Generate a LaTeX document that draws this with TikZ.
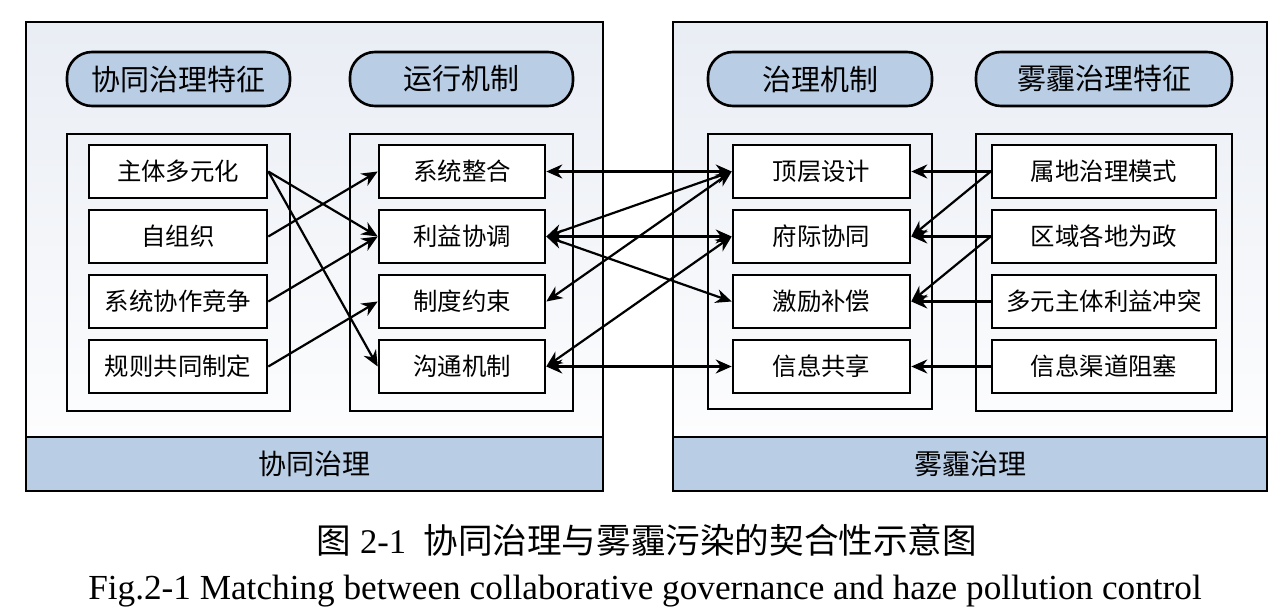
\documentclass[tikz,border=0pt]{standalone}
\usepackage{fontspec}
\setmainfont{Liberation Serif}
\newfontfamily\cjk{Noto Sans CJK SC}
\usetikzlibrary{arrows.meta, positioning}
\definecolor{bandblue}{RGB}{185,205,229}
\definecolor{paleblue}{RGB}{233,237,244}

\begin{document}
\begin{tikzpicture}[
    x=0.5pt, y=-0.5pt,
    node distance=4.7pt,
    panel/.style={draw, line width=1.3pt, top color=paleblue, bottom color=white},
    band/.style={draw, line width=1.3pt, fill=bandblue, minimum height=27pt, font=\cjk\fontsize{14}{16}\selectfont},
    pill/.style={draw, line width=1.3pt, fill=bandblue, rounded corners=12.5pt, minimum height=27pt, font=\cjk\fontsize{14.5}{16}\selectfont},
    frame/.style={draw, line width=1.3pt},
    item/.style={draw, line width=1.3pt, fill=white, minimum height=26.5pt, font=\cjk\fontsize{12.2}{14}\selectfont},
    arrow/.style={line width=1.1pt, -{Stealth[length=8pt,width=7pt]}},
    both/.style={line width=1.1pt, {Stealth[length=8pt,width=7pt]}-{Stealth[length=8pt,width=7pt]}}
]
\useasboundingbox (0,0) rectangle (1286,616);

% outer panels
\draw[panel] (26,22) rectangle (603,491);
\draw[panel] (673,22) rectangle (1267,491);
\node[band, minimum width=288.5pt] (lband) at (314.5,464) {协同治理};
\node[band, minimum width=297pt] (rband) at (970,464) {雾霾治理};

% headings
\node[pill, minimum width=111.5pt] (feaA) at (178.5,79) {协同治理特征};
\node[pill, minimum width=111.5pt] (mechA) at (461.5,79) {运行机制};
\node[pill, minimum width=112pt] (mechB) at (820,79) {治理机制};
\node[pill, minimum width=128pt] (feaB) at (1104,79) {雾霾治理特征};

% inner frames
\draw[frame] (67,134) rectangle (290,411);
\draw[frame] (350,134) rectangle (573,411);
\draw[frame] (708,134) rectangle (932,409);
\draw[frame] (976,134) rectangle (1232,411);

% column 1
\node[item, minimum width=89pt] (a1) at (178,171.5) {主体多元化};
\node[item, minimum width=89pt, below=of a1] (a2) {自组织};
\node[item, minimum width=89pt, below=of a2] (a3) {系统协作竞争};
\node[item, minimum width=89pt, below=of a3] (a4) {规则共同制定};

% column 2
\node[item, minimum width=83pt] (b1) at (462,171.5) {系统整合};
\node[item, minimum width=83pt, below=of b1] (b2) {利益协调};
\node[item, minimum width=83pt, below=of b2] (b3) {制度约束};
\node[item, minimum width=83pt, below=of b3] (b4) {沟通机制};

% column 3
\node[item, minimum width=88.5pt] (c1) at (821.5,171.5) {顶层设计};
\node[item, minimum width=88.5pt, below=of c1] (c2) {府际协同};
\node[item, minimum width=88.5pt, below=of c2] (c3) {激励补偿};
\node[item, minimum width=88.5pt, below=of c3] (c4) {信息共享};

% column 4
\node[item, minimum width=112pt] (d1) at (1104,171.5) {属地治理模式};
\node[item, minimum width=112pt, below=of d1] (d2) {区域各地为政};
\node[item, minimum width=112pt, below=of d2] (d3) {多元主体利益冲突};
\node[item, minimum width=112pt, below=of d3] (d4) {信息渠道阻塞};

% features to operating mechanisms
\draw[arrow] (a1.east) -- (b2.west);
\draw[arrow] (a1.east) -- (b4.west);
\draw[arrow] (a2.east) -- (b1.west);
\draw[arrow] (a3.east) -- (b2.west);
\draw[arrow] (a4.east) -- (b3.west);

% matching
\draw[both] (b1.east) -- (c1.west);
\draw[both] (b2.east) -- (c1.west);
\draw[both] (b3.east) -- (c1.west);
\draw[both] (b2.east) -- (c2.west);
\draw[both] (b2.east) -- (c3.west);
\draw[both] (b4.east) -- (c2.west);
\draw[both] (b4.east) -- (c4.west);

% haze features to governance mechanisms
\draw[arrow] (d1.west) -- (c1.east);
\draw[arrow] (d1.west) -- (c2.east);
\draw[arrow] (d2.west) -- (c2.east);
\draw[arrow] (d2.west) -- (c3.east);
\draw[arrow] (d3.west) -- (c3.east);
\draw[arrow] (d4.west) -- (c4.east);

% caption
\node[font=\fontsize{17.3}{20}\selectfont] (capzh) at (647,540) {{\cjk 图} 2-1\enspace{\cjk 协同治理与雾霾污染的契合性示意图}};
\node[font=\fontsize{17.6}{20}\selectfont] (capen) at (645,591) {Fig.2-1 Matching between collaborative governance and haze pollution control};
\end{tikzpicture}
\end{document}
